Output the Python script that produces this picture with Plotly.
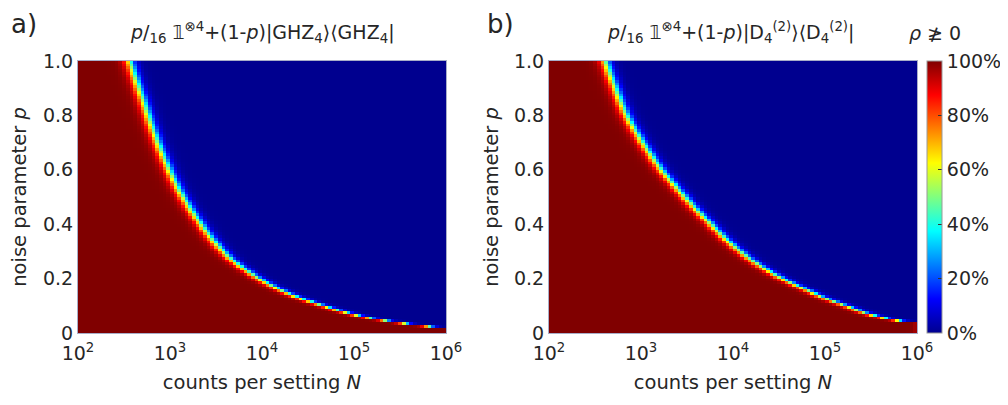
import numpy as np
import plotly.graph_objects as go

# ---- data ----
# boundary (50 % point) of the "rho not >= 0" region: noise p vs log10(N)
p_left = [0.015, 0.023, 0.036, 0.060, 0.097, 0.158, 0.281, 0.403, 0.53, 0.679, 0.852, 1.0]
logN_left = [6.2, 5.88, 5.53, 5.10, 4.70, 4.20, 3.63, 3.33, 3.09, 2.89, 2.71, 2.56]
p_right = [0.035, 0.042, 0.056, 0.072, 0.097, 0.158, 0.281, 0.403, 0.526, 0.605, 0.80, 1.0]
logN_right = [6.1, 5.85, 5.63, 5.45, 5.26, 4.80, 4.15, 3.75, 3.41, 3.21, 2.84, 2.61]
transition_width = 0.035  # decades

x_ticks = [2, 3, 4, 5, 6]
x_ticktext = ["10<sup>2</sup>", "10<sup>3</sup>", "10<sup>4</sup>", "10<sup>5</sup>", "10<sup>6</sup>"]
y_ticks = [0, 0.2, 0.4, 0.6, 0.8, 1.0]
y_ticktext = ["0", "0.2", "0.4", "0.6", "0.8", "1.0"]
cb_ticks = [0, 20, 40, 60, 80, 100]
cb_ticktext = ["0%", "20%", "40%", "60%", "80%", "100%"]

# simulation grid
logN_grid = 2.02 + 0.04 * np.arange(100)
p_grid = 0.005 + 0.01 * np.arange(100)


def make_z(p_b, n_b):
    b = np.interp(np.log(p_grid), np.log(p_b), n_b)
    return 100.0 / (1.0 + np.exp((logN_grid[None, :] - b[:, None]) / transition_width))


jet = [[0, "rgb(0,0,143)"], [0.125, "rgb(0,0,255)"], [0.375, "rgb(0,255,255)"],
       [0.625, "rgb(255,255,0)"], [0.875, "rgb(255,0,0)"], [1, "rgb(128,0,0)"]]

# page has an 8px body margin: work in figure coordinates = page - 8
OFF = 8
W, H = 1000, 397
FONT = "DejaVu Sans"
TXT = "#262626"
FS = 19


def px(xp):
    return (xp - OFF) / W


def py(yp):
    return (H - (yp - OFF)) / H


fig = go.Figure()
fig.add_trace(go.Heatmap(x=logN_grid, y=p_grid, z=make_z(p_left, logN_left), colorscale=jet,
                         zmin=0, zmax=100, showscale=False, xaxis="x", yaxis="y"))
fig.add_trace(go.Heatmap(x=logN_grid, y=p_grid, z=make_z(p_right, logN_right), colorscale=jet,
                         zmin=0, zmax=100, xaxis="x2", yaxis="y2",
                         colorbar=dict(x=px(927), xanchor="left", xpad=0, ypad=0, thickness=15,
                                       len=272 / H, lenmode="fraction", y=py(197), yanchor="middle",
                                       tickvals=cb_ticks, ticktext=cb_ticktext, ticks="inside", ticklen=4,
                                       tickcolor="#333", outlinewidth=1, outlinecolor="#999",
                                       tickfont=dict(family=FONT, size=FS, color=TXT))))

ydom = [py(333), py(61)]
axis_common = dict(showgrid=False, zeroline=False, showline=True, mirror=True, linecolor="#a8aec8",
                   linewidth=1, ticks="", automargin=False,
                   tickfont=dict(family=FONT, size=FS, color=TXT))
tfont = dict(family=FONT, size=19.5, color=TXT)
fig.update_layout(
    width=W, height=H, margin=dict(l=0, r=0, t=0, b=0, autoexpand=False),
    paper_bgcolor="white", plot_bgcolor="white",
    xaxis=dict(domain=[px(78), px(446)], range=[2, 6], tickvals=x_ticks, ticktext=x_ticktext,
               ticklabelstandoff=3,
               title=dict(text="counts per setting <i>N</i>", font=tfont, standoff=12), **axis_common),
    yaxis=dict(domain=ydom, range=[0, 1], tickvals=y_ticks, ticktext=y_ticktext,
               title=dict(text="noise parameter <i>p</i>", font=tfont, standoff=12), **axis_common),
    xaxis2=dict(domain=[px(549), px(917)], range=[2, 6], tickvals=x_ticks, ticktext=x_ticktext, anchor="y2",
                ticklabelstandoff=3,
                title=dict(text="counts per setting <i>N</i>", font=tfont, standoff=12), **axis_common),
    yaxis2=dict(domain=ydom, range=[0, 1], tickvals=y_ticks, ticktext=y_ticktext, anchor="x2",
                title=dict(text="noise parameter <i>p</i>", font=tfont, standoff=10), **axis_common),
)

fig.add_annotation(x=px(262), y=py(33), xref="paper", yref="paper", showarrow=False, font=dict(family=FONT, size=FS, color=TXT),
                   xanchor="center", yanchor="middle",
                   text="<i>p</i>/<sub>16</sub> 𝟙<sup>⊗4</sup>+(1-<i>p</i>)|GHZ<sub>4</sub>⟩⟨GHZ<sub>4</sub>|")
fig.add_annotation(x=px(730), y=py(33), xref="paper", yref="paper", showarrow=False, font=dict(family=FONT, size=FS, color=TXT),
                   xanchor="center", yanchor="middle",
                   text="<i>p</i>/<sub>16</sub> 𝟙<sup>⊗4</sup>+(1-<i>p</i>)|D<sub>4</sub><sup>(2)</sup>⟩⟨D<sub>4</sub><sup>(2)</sup>|")
fig.add_annotation(x=px(935), y=py(33), xref="paper", yref="paper", showarrow=False, font=dict(family=FONT, size=FS, color=TXT),
                   xanchor="center", yanchor="middle", text="<i>ρ</i> ≱ 0")
fig.add_annotation(x=px(9), y=py(24), xref="paper", yref="paper", showarrow=False, xanchor="left",
                   yanchor="middle", font=dict(family=FONT, size=26, color=TXT), text="a)")
fig.add_annotation(x=px(485), y=py(24), xref="paper", yref="paper", showarrow=False, xanchor="left",
                   yanchor="middle", font=dict(family=FONT, size=26, color=TXT), text="b)")

fig.write_html("out.html")
